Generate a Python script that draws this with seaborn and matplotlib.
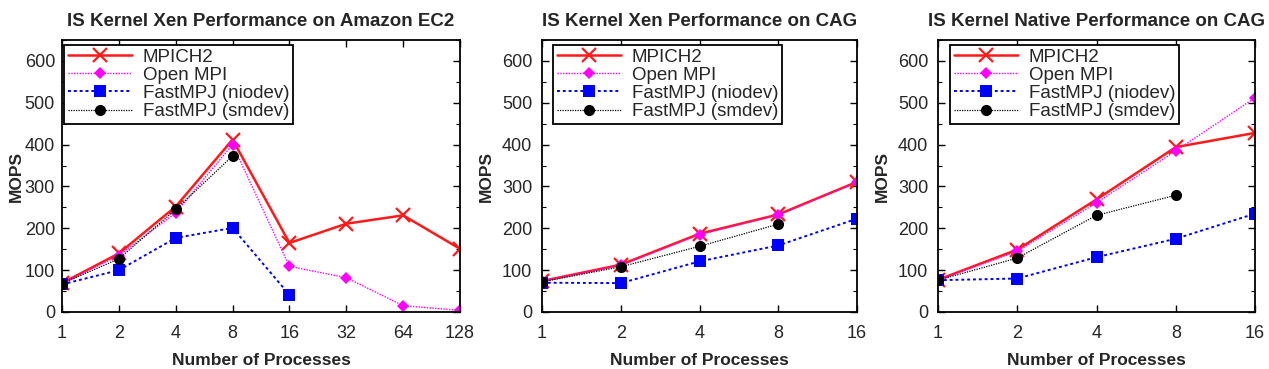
import numpy as np
import pandas as pd
import matplotlib
matplotlib.use("Agg")
import matplotlib.pyplot as plt
import seaborn as sns
from matplotlib.ticker import FixedLocator, NullLocator, MultipleLocator

# ---------------- data ----------------
titles = ["IS Kernel Xen Performance on Amazon EC2",
          "IS Kernel Xen Performance on CAG",
          "IS Kernel Native Performance on CAG"]
series_names = ["MPICH2", "Open MPI", "FastMPJ (niodev)", "FastMPJ (smdev)"]

procs_ec2 = [1, 2, 4, 8, 16, 32, 64, 128]
procs_cag = [1, 2, 4, 8, 16]

# Panel 1: Xen on Amazon EC2
ec2_mpich2 = [69, 140, 252, 412, 165, 211, 231, 151]
ec2_openmpi = [68, 135, 237, 400, 109, 82, 15, 4]
ec2_niodev = [66, 100, 177, 201, 41]
ec2_smdev = [68, 127, 245, 373]

# Panel 2: Xen on CAG
xcag_mpich2 = [74, 113, 187, 233, 311]
xcag_openmpi = [74, 112, 185, 232, 310]
xcag_niodev = [70, 69, 121, 159, 223]
xcag_smdev = [72, 108, 157, 210]

# Panel 3: Native on CAG
ncag_mpich2 = [77, 149, 269, 394, 428]
ncag_openmpi = [76, 145, 261, 385, 512]
ncag_niodev = [76, 80, 131, 175, 235]
ncag_smdev = [76, 129, 231, 279]

yticks = [0, 100, 200, 300, 400, 500, 600]

panels = [
    (procs_ec2, [ec2_mpich2, ec2_openmpi, ec2_niodev, ec2_smdev]),
    (procs_cag, [xcag_mpich2, xcag_openmpi, xcag_niodev, xcag_smdev]),
    (procs_cag, [ncag_mpich2, ncag_openmpi, ncag_niodev, ncag_smdev]),
]

# ---------------- styles ----------------
styles = [
    dict(color="#ff1a1a", marker="x", linestyle="-", linewidth=1.8, markersize=10, markeredgewidth=1.6),
    dict(color="#ff00ff", marker="D", linestyle=(0, (1, 1)), linewidth=1.0, markersize=6, markeredgewidth=0),
    dict(color="#0000ff", marker="s", linestyle=(0, (1.5, 1.5)), linewidth=1.4, markersize=8, markeredgewidth=0),
    dict(color="#000000", marker="o", linestyle=(0, (1, 1)), linewidth=0.9, markersize=8, markeredgewidth=0),
]

sns.set_theme(style="ticks")
plt.rcParams["font.family"] = ["Liberation Sans", "DejaVu Sans"]
plt.rcParams["axes.linewidth"] = 1.3

W, H = 1269, 369
fig = plt.figure(figsize=(W / 100, H / 100), dpi=100)

# axes boxes in pixels: left, right ; top, bottom shared
boxes = [(62, 460), (542, 857), (938, 1255)]
legend_left_px = [64, 553, 950]
ylabel_off_px = [38, 48, 48]
top_px, bot_px = 40, 312

for i, ((l, r), title, (procs, vals)) in enumerate(zip(boxes, titles, panels)):
    ax = fig.add_axes([l / W, (H - bot_px) / H, (r - l) / W, (bot_px - top_px) / H])
    for name, v, st in zip(series_names, vals, styles):
        df = pd.DataFrame({"procs": procs[:len(v)], "mops": v})
        sns.lineplot(data=df, x="procs", y="mops", ax=ax, label=name,
                     markerfacecolor=st["color"], markeredgecolor=st["color"], **st)
    ax.set_xscale("log", base=2)
    ax.set_xlim(procs[0], procs[-1])
    ax.xaxis.set_major_locator(FixedLocator(procs))
    ax.xaxis.set_minor_locator(NullLocator())
    ax.set_xticklabels([str(p) for p in procs])
    ax.set_ylim(0, 650)
    ax.set_yticks(yticks)
    ax.yaxis.set_minor_locator(MultipleLocator(50))
    ax.tick_params(axis="both", which="both", direction="in", top=True, right=True,
                   color="black", labelsize=13)
    ax.tick_params(axis="both", which="major", length=5, width=1.0)
    ax.tick_params(axis="both", which="minor", length=3, width=0.8)
    ax.tick_params(axis="x", pad=9)
    ax.tick_params(axis="y", pad=5 if i == 0 else 7)
    for sp in ax.spines.values():
        sp.set_color("black")
        sp.set_linewidth(1.3)
    ax.set_title(title, fontsize=13.5, fontweight="bold", pad=10)
    ax.set_xlabel("Number of Processes", fontsize=12.5, fontweight="bold", labelpad=8)
    ax.set_ylabel("MOPS", fontsize=12.5, fontweight="bold")
    w_ax = r - l
    h_ax = bot_px - top_px
    ax.yaxis.set_label_coords(-ylabel_off_px[i] / w_ax, 0.5)
    ax.grid(False)
    leg = ax.legend(loc="upper left",
                    bbox_to_anchor=((legend_left_px[i] - l) / w_ax, 1 - 5 / h_ax),
                    borderaxespad=0, fontsize=13.5, frameon=True, fancybox=False,
                    framealpha=1, edgecolor="black", handlelength=3.4,
                    handletextpad=0.6, labelspacing=0.05, borderpad=0.2, numpoints=1)
    leg.get_frame().set_linewidth(1.3)

fig.savefig("out.png", dpi=100)
